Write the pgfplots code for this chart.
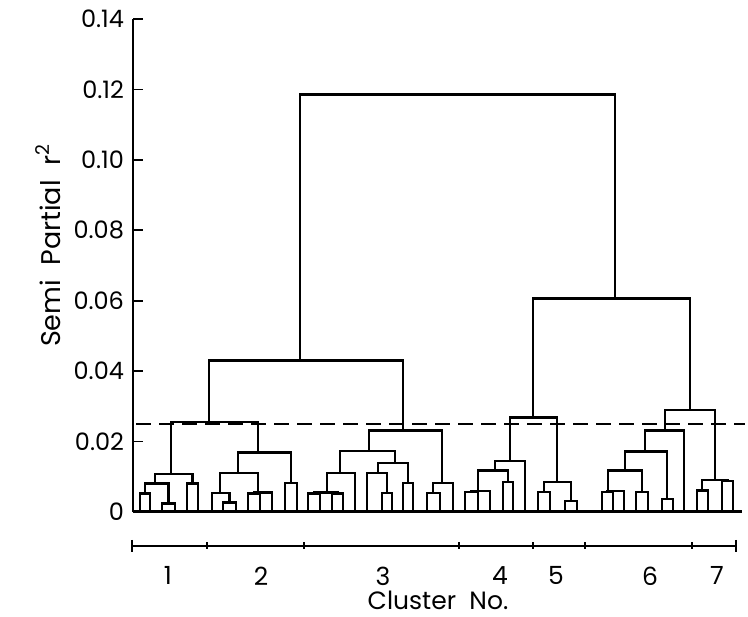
\documentclass[border=0pt]{standalone}
\usepackage{fontspec}
\setmainfont{Poppins}
\usepackage{pgfplots}
\pgfplotsset{compat=1.18}

\begin{document}
\begin{tikzpicture}
\begin{axis}[
    scale only axis,
    width=304.5pt, height=246.4pt,
    xmin=133, xmax=742,
    ymin=0, ymax=0.14,
    clip=false,
    axis x line=bottom, axis y line=left,
    axis line style={-, line width=1.4pt},
    xtick=\empty,
    ytick={0,0.02,0.04,0.06,0.08,0.10,0.12,0.14},
    yticklabels={0,0.02,0.04,0.06,0.08,0.10,0.12,0.14},
    tick align=inside,
    major tick length=5pt,
    tick style={line width=0.9pt, black},
    yticklabel style={font=\fontsize{12}{13}\selectfont, xshift=-1pt},
    unbounded coords=jump,
]

% invisible frame: same proportions as the original figure
\path (axis cs:0,0.1454) rectangle (axis cs:748,-0.0287);

% cluster 1
\addplot[black, line width=1.2pt] coordinates {
    (140,0) (140,0.0052) (150,0.0052) (150,0) (0,nan)
    (162,0) (162,0.0024) (175,0.0024) (175,0) (0,nan)
    (145,0.0052) (145,0.0080) (168.5,0.0080) (168.5,0.0024) (0,nan)
    (187,0) (187,0.0080) (198,0.0080) (198,0) (0,nan)
    (155,0.0080) (155,0.0108) (192.5,0.0108) (192.5,0.0080) (0,nan)
};
% cluster 2
\addplot[black, line width=1.2pt] coordinates {
    (223,0) (223,0.0026) (236,0.0026) (236,0) (0,nan)
    (212,0) (212,0.0054) (229.5,0.0054) (229.5,0.0026) (0,nan)
    (248,0) (248,0.0052) (260,0.0052) (260,0) (0,nan)
    (254,0.0052) (254,0.0055) (272,0.0055) (272,0) (0,nan)
    (220,0.0054) (220,0.0111) (258,0.0111) (258,0.0055) (0,nan)
    (285,0) (285,0.0082) (297,0.0082) (297,0) (0,nan)
    (238,0.0111) (238,0.0168) (291,0.0168) (291,0.0082) (0,nan)
    (171,0.0108) (171,0.0255) (258,0.0255) (258,0.0168) (0,nan)
};
% cluster 3
\addplot[black, line width=1.2pt] coordinates {
    (308,0) (308,0.0052) (320,0.0052) (320,0) (0,nan)
    (332,0) (332,0.0052) (343,0.0052) (343,0) (0,nan)
    (314,0.0052) (314,0.0055) (337.5,0.0055) (337.5,0.0052) (0,nan)
    (327,0.0055) (327,0.0111) (355,0.0111) (355,0) (0,nan)
    (382,0) (382,0.0054) (392,0.0054) (392,0) (0,nan)
    (367,0) (367,0.0111) (387,0.0111) (387,0.0054) (0,nan)
    (403,0) (403,0.0082) (413,0.0082) (413,0) (0,nan)
    (378,0.0111) (378,0.0139) (408,0.0139) (408,0.0082) (0,nan)
    (340,0.0111) (340,0.0173) (395,0.0173) (395,0.0139) (0,nan)
    (427,0) (427,0.0054) (440,0.0054) (440,0) (0,nan)
    (433,0.0054) (433,0.0082) (453,0.0082) (453,0) (0,nan)
    (369,0.0173) (369,0.0231) (442,0.0231) (442,0.0082) (0,nan)
};
% clusters 4 and 5
\addplot[black, line width=1.2pt] coordinates {
    (465,0) (465,0.0057) (478,0.0057) (478,0) (0,nan)
    (471,0.0057) (471,0.0059) (490,0.0059) (490,0) (0,nan)
    (503,0) (503,0.0085) (513,0.0085) (513,0) (0,nan)
    (478,0.0059) (478,0.0117) (508,0.0117) (508,0.0085) (0,nan)
    (495,0.0117) (495,0.0145) (525,0.0145) (525,0) (0,nan)
    (538,0) (538,0.0057) (550,0.0057) (550,0) (0,nan)
    (565,0) (565,0.0031) (577,0.0031) (577,0) (0,nan)
    (544,0.0057) (544,0.0085) (571,0.0085) (571,0.0031) (0,nan)
    (510,0.0145) (510,0.0268) (557,0.0268) (557,0.0085) (0,nan)
};
% clusters 6 and 7
\addplot[black, line width=1.2pt] coordinates {
    (602,0) (602,0.0057) (613,0.0057) (613,0) (0,nan)
    (607.5,0.0057) (607.5,0.0059) (624,0.0059) (624,0) (0,nan)
    (636,0) (636,0.0057) (648,0.0057) (648,0) (0,nan)
    (608,0.0059) (608,0.0117) (642,0.0117) (642,0.0057) (0,nan)
    (662,0) (662,0.0037) (673,0.0037) (673,0) (0,nan)
    (625,0.0117) (625,0.0171) (667,0.0171) (667,0.0037) (0,nan)
    (645,0.0171) (645,0.0231) (684,0.0231) (684,0) (0,nan)
    (697,0) (697,0.0060) (708,0.0060) (708,0) (0,nan)
    (722,0) (722,0.0088) (733,0.0088) (733,0) (0,nan)
    (702,0.0060) (702,0.0090) (727.5,0.0090) (727.5,0.0088) (0,nan)
    (665,0.0231) (665,0.0290) (715,0.0290) (715,0.0090) (0,nan)
};
% upper merges
\addplot[black, line width=1.2pt] coordinates {
    (209,0.0255) (209,0.0430) (403,0.0430) (403,0.0231) (0,nan)
    (533,0.0268) (533,0.0606) (690,0.0606) (690,0.0290) (0,nan)
    (300,0.0430) (300,0.1185) (615,0.1185) (615,0.0606)
};

% cut level
\addplot[black, line width=1.1pt, dash pattern=on 7.5pt off 4pt] coordinates {(136,0.025) (745,0.025)};

% cluster scale
\addplot[black, line width=0.9pt] coordinates {
    (132,-0.0097) (736,-0.0097) (0,nan)
    (132,-0.0080) (132,-0.0114) (0,nan)
    (207,-0.0087) (207,-0.0107) (0,nan)
    (304,-0.0087) (304,-0.0107) (0,nan)
    (459,-0.0087) (459,-0.0107) (0,nan)
    (533,-0.0087) (533,-0.0107) (0,nan)
    (585,-0.0087) (585,-0.0107) (0,nan)
    (692,-0.0087) (692,-0.0107) (0,nan)
    (736,-0.0080) (736,-0.0114)
};
\node[font=\fontsize{12.5}{13}\selectfont] at (axis cs:168,-0.0182) {1};
\node[font=\fontsize{12.5}{13}\selectfont] at (axis cs:261,-0.0182) {2};
\node[font=\fontsize{12.5}{13}\selectfont] at (axis cs:383,-0.0182) {3};
\node[font=\fontsize{12.5}{13}\selectfont] at (axis cs:500,-0.0182) {4};
\node[font=\fontsize{12.5}{13}\selectfont] at (axis cs:556,-0.0182) {5};
\node[font=\fontsize{12.5}{13}\selectfont] at (axis cs:650,-0.0182) {6};
\node[font=\fontsize{12.5}{13}\selectfont] at (axis cs:717,-0.0182) {7};

\node[font=\fontsize{12.5}{14}\selectfont] at (axis cs:438,-0.0252) {Cluster\ \ No.};
\node[rotate=90, font=\fontsize{13.5}{15}\selectfont] at (axis cs:48,0.0757) {Semi\ \ Partial\ \ r\textsuperscript{2}};

\end{axis}
\end{tikzpicture}
\end{document}
